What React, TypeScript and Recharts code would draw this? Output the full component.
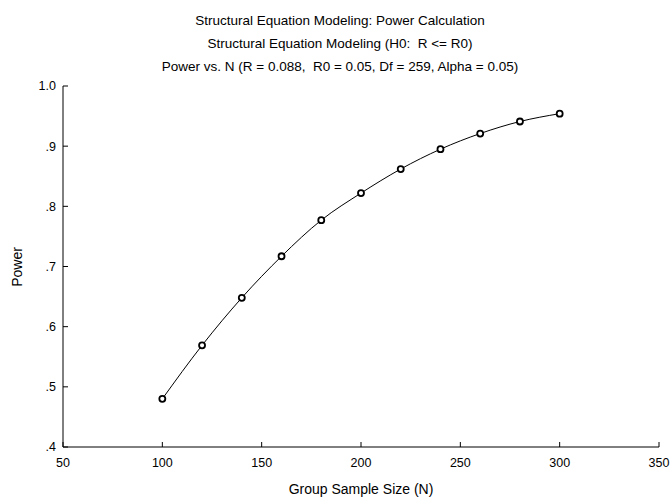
import { LineChart, Line, XAxis, YAxis } from 'recharts';

const sampleSizes = [100, 120, 140, 160, 180, 200, 220, 240, 260, 280, 300];
const powerValues = [0.48, 0.569, 0.648, 0.717, 0.777, 0.822, 0.862, 0.895, 0.921, 0.941, 0.954];

const xTicks = [50, 100, 150, 200, 250, 300, 350];
const yTicks = [0.4, 0.5, 0.6, 0.7, 0.8, 0.9, 1.0];
const yTickLabels = ['.4', '.5', '.6', '.7', '.8', '.9', '1.0'];
const yMinorTicks = [
  0.425, 0.45, 0.475, 0.525, 0.55, 0.575, 0.625, 0.65, 0.675, 0.725, 0.75, 0.775,
  0.825, 0.85, 0.875, 0.925, 0.95, 0.975,
];

const titleLines = [
  'Structural Equation Modeling: Power Calculation',
  'Structural Equation Modeling (H0:  R <= R0)',
  'Power vs. N (R = 0.088,  R0 = 0.05, Df = 259, Alpha = 0.05)',
];
const xAxisTitle = 'Group Sample Size (N)';
const yAxisTitle = 'Power';

const data = sampleSizes.map((n, i) => ({ n, power: powerValues[i] }));

const FONT = '"Liberation Sans", Arial, sans-serif';
const tickStyle = { fill: '#000', fontSize: 12.5, fontFamily: FONT };

const formatY = (v: number) => {
  const idx = yTicks.findIndex((t) => Math.abs(t - v) < 1e-6);
  return idx >= 0 ? yTickLabels[idx] : String(v);
};

const Dot = (props: any) => {
  const { cx, cy } = props;
  if (cx == null || cy == null) return <g />;
  return <circle cx={cx} cy={cy} r={3} fill="#fff" stroke="#000" strokeWidth={1.8} />;
};

export default function App() {
  return (
    <div style={{ position: 'absolute', left: 0, top: 0, width: 670, height: 498, background: '#fff' }}>
      <LineChart width={670} height={498} data={data} margin={{ top: 86, right: 11, bottom: 0, left: 0 }}>
        <XAxis
          dataKey="n"
          type="number"
          domain={[50, 350]}
          ticks={xTicks}
          interval={0}
          height={51}
          tickSize={-5}
          tickMargin={16}
          tick={tickStyle}
          axisLine={{ stroke: '#000' }}
          tickLine={{ stroke: '#000' }}
        />
        <XAxis
          xAxisId="top"
          orientation="top"
          type="number"
          domain={[50, 350]}
          height={0}
          tick={false}
          tickLine={false}
          axisLine={{ stroke: '#000' }}
        />
        <YAxis
          yAxisId="minorLeft"
          type="number"
          domain={[0.4, 1.0]}
          ticks={yMinorTicks}
          interval={0}
          width={0}
          tick={false}
          tickSize={-4}
          axisLine={false}
          tickLine={{ stroke: '#000' }}
        />
        <YAxis
          type="number"
          domain={[0.4, 1.0]}
          ticks={yTicks}
          interval={0}
          width={63}
          tickSize={-5}
          tickMargin={12}
          tick={tickStyle}
          tickFormatter={formatY}
          axisLine={{ stroke: '#000' }}
          tickLine={{ stroke: '#000' }}
        />
        <YAxis
          yAxisId="right"
          orientation="right"
          type="number"
          domain={[0.4, 1.0]}
          ticks={yTicks}
          interval={0}
          width={0}
          tick={false}
          tickSize={-5}
          axisLine={{ stroke: '#000' }}
          tickLine={{ stroke: '#000' }}
        />
        <YAxis
          yAxisId="minorRight"
          orientation="right"
          type="number"
          domain={[0.4, 1.0]}
          ticks={yMinorTicks}
          interval={0}
          width={0}
          tick={false}
          tickSize={-4}
          axisLine={false}
          tickLine={{ stroke: '#000' }}
        />
        <Line
          type="monotone"
          dataKey="power"
          stroke="#000"
          strokeWidth={1}
          dot={<Dot />}
          activeDot={false}
          isAnimationActive={false}
        />
      </LineChart>
      <svg
        width={670}
        height={498}
        style={{ position: 'absolute', left: 0, top: 0, pointerEvents: 'none' }}
        fontFamily={FONT}
      >
        {titleLines.map((t, i) => (
          <text
            key={i}
            x={340}
            y={25 + i * 23}
            textAnchor="middle"
            fontSize={13.5}
            fill="#000"
            xmlSpace="preserve"
            style={{ whiteSpace: 'pre' }}
          >
            {t}
          </text>
        ))}
        <text x={361} y={494} textAnchor="middle" fontSize={14} fill="#000">
          {xAxisTitle}
        </text>
        <text
          x={22}
          y={267}
          textAnchor="middle"
          fontSize={14}
          fill="#000"
          transform="rotate(-90 22 267)"
        >
          {yAxisTitle}
        </text>
      </svg>
    </div>
  );
}
